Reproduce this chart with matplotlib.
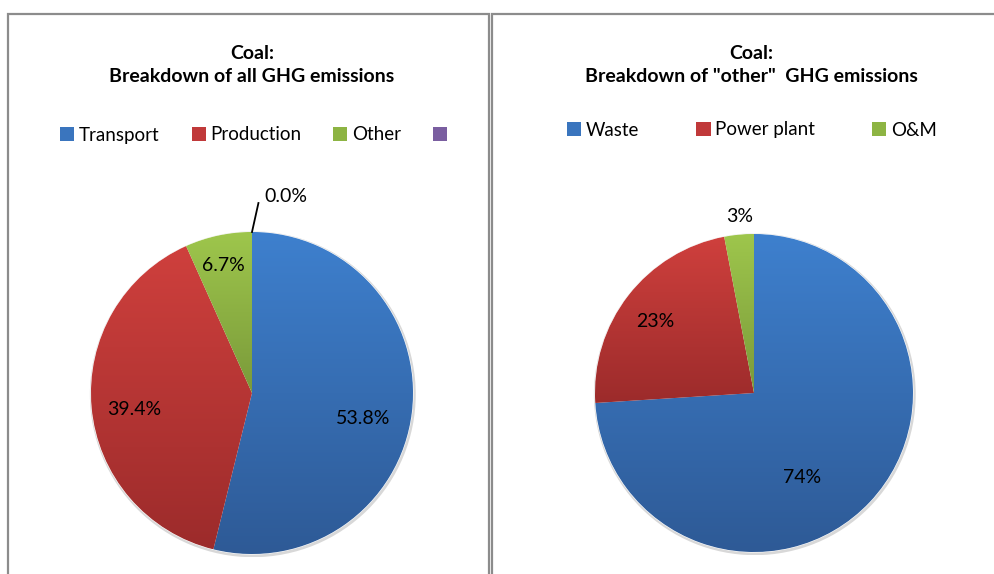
import numpy as np
import matplotlib
matplotlib.use("Agg")
import matplotlib.pyplot as plt
from matplotlib.patches import Rectangle, Patch, Circle
from matplotlib.colors import to_rgb

plt.rcParams['font.family'] = ['Lato', 'DejaVu Sans']

# ---- data ----
left_title = "Coal:\nBreakdown of all GHG emissions"
left_labels = ["Transport", "Production", "Other", ""]
left_values = [53.8, 39.4, 6.7, 0.0]
left_pct = ["53.8%", "39.4%", "6.7%", "0.0%"]

right_title = "Coal:\nBreakdown of \"other\"  GHG emissions"
right_labels = ["Waste", "Power plant", "O&M"]
right_values = [74, 23, 3]
right_pct = ["74%", "23%", "3%"]

# ---- styles ----
tops = ["#3E80CE", "#CF403D", "#9EC64C", "#8064A2"]
bots = ["#2E5A96", "#9C2B2B", "#7A9A3A", "#604A7B"]
legend_cols = ["#3A75BE", "#C0393A", "#8DB443", "#7A5EA0"]

W, H = 994, 574
fig = plt.figure(figsize=(W / 100, H / 100), dpi=100)
fig.patch.set_facecolor("white")

def fx(px):
    return px / W

def fy(py):
    return 1 - py / H

# panel borders
for x0, x1 in [(8, 489), (492, 1010)]:
    fig.patches.append(Rectangle((fx(x0), fy(600)), fx(x1 - x0), (600 - 14) / H,
                                 transform=fig.transFigure, fill=False,
                                 edgecolor="#8C8C8C", linewidth=1.6))


def gradient_pie(ax, values, pcts, label_xy, leader=None):
    # faint shadow ring
    ax.add_patch(Circle((0.005, -0.008), 1.012, facecolor="#D8D8D8", edgecolor="none", zorder=0))
    wedges, _ = ax.pie(values, startangle=90, counterclock=False, radius=1,
                       colors=tops[:len(values)],
                       wedgeprops=dict(linewidth=0.8, edgecolor="white"))
    for i, w in enumerate(wedges):
        if values[i] <= 0:
            continue
        path = w.get_path().transformed(w.get_patch_transform())
        ext = path.get_extents()
        t, b = np.array(to_rgb(tops[i])), np.array(to_rgb(bots[i]))
        f = np.linspace(0, 1, 256)[:, None]
        img = (t[None, :] * (1 - f) + b[None, :] * f)[:, None, :]
        im = ax.imshow(img, extent=[ext.x0, ext.x1, ext.y0, ext.y1],
                       origin="upper", aspect="auto", zorder=w.get_zorder() + 0.1,
                       interpolation="bilinear")
        im.set_clip_path(w)
    ax.set_xlim(-1.02, 1.02)
    ax.set_ylim(-1.02, 1.02)
    ax.set_aspect("equal")
    ax.axis("off")
    for p, (x, y) in zip(pcts, label_xy):
        ax.text(x, y, p, ha="center", va="center", fontsize=14, color="black", zorder=5)
    if leader is not None:
        ax.plot(leader[0], leader[1], color="black", lw=1.3, zorder=5, clip_on=False)


# left pie: center (252,393), r 161
r = 161
axL = fig.add_axes([fx(252 - r * 1.02), fy(393 + r * 1.02), fx(2 * r * 1.02), 2 * r * 1.02 / H])
gradient_pie(axL, left_values, left_pct,
             [(0.69, -0.16), (-0.73, -0.10), (-0.18, 0.79), (0.21, 1.22)],
             leader=([0.0, 0.04], [1.0, 1.18]))

r = 159
axR = fig.add_axes([fx(754 - r * 1.02), fy(393 + r * 1.02), fx(2 * r * 1.02), 2 * r * 1.02 / H])
gradient_pie(axR, right_values, right_pct,
             [(0.30, -0.53), (-0.62, 0.45), (-0.09, 1.11)])

# titles
fig.text(fx(252), fy(65), left_title, ha="center", va="center", fontsize=14,
         fontweight="bold", linespacing=1.45)
fig.text(fx(751), fy(65), right_title, ha="center", va="center", fontsize=14,
         fontweight="bold", linespacing=1.45)

# legends
hl = [Patch(facecolor=c, edgecolor="none") for c in legend_cols[:4]]
fig.legend(hl, left_labels, loc="center", bbox_to_anchor=(fx(256), fy(135)),
           ncol=4, frameon=False, fontsize=13.5, handlelength=0.75, handleheight=0.75,
           handletextpad=0.25, columnspacing=1.7, borderaxespad=0)
hr = [Patch(facecolor=c, edgecolor="none") for c in legend_cols[:3]]
fig.legend(hr, right_labels, loc="center", bbox_to_anchor=(fx(752), fy(130)),
           ncol=3, frameon=False, fontsize=13.5, handlelength=0.75, handleheight=0.75,
           handletextpad=0.25, columnspacing=3.05, borderaxespad=0)

fig.savefig("out.png", dpi=100)
